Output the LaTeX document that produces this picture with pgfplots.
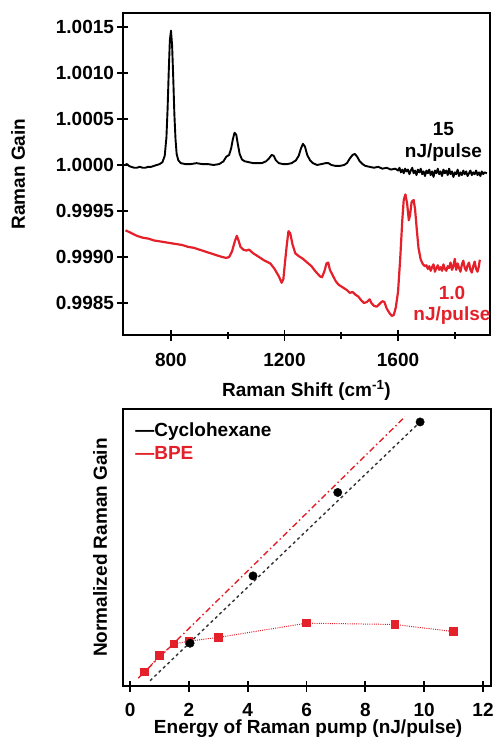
\documentclass[border=0pt]{standalone}
\usepackage{fontspec}
\setmainfont{Liberation Sans}
\usepackage{pgfplots}
\pgfplotsset{compat=1.18}
\definecolor{bpered}{HTML}{E4202A}
\newcommand{\tickfont}{\fontsize{19}{22}\selectfont\bfseries}
\newcommand{\labfont}{\fontsize{19}{22}\selectfont\bfseries}
\pgfplotsset{
  panel/.style={
    scale only axis, anchor=north west,
    axis line style={line width=2.4pt},
    tick align=center, tick style={line width=1.8pt, black},
    major tick length=11pt, minor tick length=7pt,
    xtick pos=lower, ytick pos=left,
    tick label style={font=\tickfont},
    label style={font=\labfont},
    /pgf/number format/assume math mode=true,
    /pgf/number format/1000 sep={},
  }
}
\begin{document}
\begin{tikzpicture}
\useasboundingbox (0pt,0pt) rectangle (494pt,-740pt);

% top: Raman spectra, y in units of 1e-5 relative to a gain of 1
\begin{axis}[panel,
  at={(123pt,-13pt)}, width=367pt, height=322pt,
  xmin=631, xmax=1924, ymin=-184.8, ymax=165.2,
  xtick={800,1200,1600}, minor xtick={1000,1400,1800},
  ytick={-150,-100,-50,0,50,100,150},
  yticklabels={0.9985,0.9990,0.9995,1.0000,1.0005,1.0010,1.0015},
  xticklabel style={yshift=-9pt},
  xlabel={Raman Shift (cm\textsuperscript{-1})},
  ylabel={Raman Gain},
  xlabel style={at={(axis description cs:0.5,-0.172)}, anchor=center},
  ylabel style={at={(axis description cs:-0.286,0.5)}, anchor=center},
]
\addplot[black, line width=1.9pt, line join=round] coordinates {
 (638,0) (645,1) (652,-1) (660,-2) (670,-3) (680,-3) (690,-2) (700,-3) (710,-3)
 (720,-2) (730,-2) (740,-1) (750,0) (760,1) (770,3) (778,10) (784,30) (788,60)
 (792,100) (796,135) (800,146) (804,130) (808,95) (812,55) (816,28) (820,12)
 (826,5) (835,2) (850,1) (870,1) (890,2) (910,1) (930,1) (950,0) (970,1) (985,4)
 (995,9) (1005,11) (1012,18) (1018,28) (1024,35) (1030,33) (1036,22) (1042,12)
 (1050,6) (1060,4) (1075,3) (1090,2) (1105,2) (1120,2) (1135,4) (1145,7)
 (1155,11) (1162,10) (1170,5) (1180,2) (1195,1) (1210,1) (1225,2) (1240,5)
 (1250,10) (1258,18) (1265,23) (1272,20) (1280,11) (1290,5) (1300,2) (1315,0)
 (1330,1) (1345,2) (1355,2) (1365,0) (1380,-1) (1395,-1) (1410,0) (1420,2)
 (1430,7) (1440,11) (1448,12) (1456,9) (1465,4) (1475,1) (1485,-1) (1500,-2)
 (1515,-3) (1530,-2) (1545,-4) (1560,-3) (1575,-5) (1590,-4)
 (1600,-6) (1605,-3) (1610,-8) (1615,-5) (1620,-9) (1625,-4) (1630,-7)
 (1635,-5) (1640,-10) (1645,-6) (1650,-3) (1655,-9) (1660,-6) (1665,-11)
 (1670,-5) (1675,-8) (1680,-4) (1685,-10) (1690,-7) (1695,-12) (1700,-6)
 (1705,-9) (1710,-5) (1715,-11) (1720,-7) (1725,-13) (1730,-6) (1735,-9)
 (1740,-4) (1745,-10) (1750,-7) (1755,-12) (1760,-5) (1765,-9) (1770,-6)
 (1775,-11) (1780,-4) (1785,-10) (1790,-7) (1795,-13) (1800,-8) (1805,-10)
 (1810,-5) (1815,-12) (1820,-8) (1825,-11) (1830,-6) (1835,-10) (1840,-7)
 (1845,-12) (1850,-9) (1855,-6) (1860,-11) (1865,-8) (1870,-10) (1875,-6)
 (1880,-11) (1885,-8) (1890,-12) (1895,-7) (1900,-10) (1905,-8) (1913,-9)};
\addplot[bpered, line width=2.2pt, line join=round] coordinates {
 (640,-71) (660,-74) (680,-77) (700,-79) (720,-80) (740,-82) (760,-83)
 (780,-84) (800,-85) (820,-86) (840,-87) (860,-89) (880,-90) (900,-92)
 (920,-94) (940,-96) (960,-98) (980,-100) (995,-101) (1005,-100) (1015,-94)
 (1025,-83) (1032,-77) (1038,-82) (1045,-89) (1055,-92) (1065,-93) (1075,-92)
 (1090,-96) (1110,-100) (1130,-104) (1150,-107) (1165,-113) (1180,-121)
 (1190,-128) (1196,-124) (1202,-105) (1208,-87) (1214,-72) (1220,-74)
 (1228,-86) (1238,-96) (1250,-99) (1265,-102) (1280,-106) (1295,-110)
 (1310,-116) (1325,-121) (1332,-122) (1340,-116) (1348,-107) (1354,-106)
 (1360,-114) (1370,-120) (1380,-126) (1390,-130) (1400,-132) (1410,-134)
 (1420,-136) (1430,-139) (1440,-138) (1450,-141) (1460,-143) (1470,-147)
 (1480,-150) (1490,-149) (1500,-146) (1506,-150) (1515,-153) (1525,-154)
 (1535,-151) (1545,-148) (1552,-149) (1560,-156) (1570,-161) (1578,-164)
 (1585,-163) (1592,-155) (1600,-138) (1608,-100) (1615,-60) (1620,-38)
 (1626,-32) (1632,-42) (1638,-60) (1642,-55) (1648,-40) (1655,-38) (1660,-48)
 (1666,-70) (1672,-90) (1680,-103) (1688,-108) (1695,-110) (1700,-109)
 (1705,-113) (1710,-110) (1715,-115) (1720,-111) (1725,-108) (1730,-116)
 (1735,-112) (1740,-109) (1745,-114) (1750,-111) (1755,-115) (1760,-108)
 (1765,-113) (1770,-115) (1775,-110) (1780,-112) (1785,-106) (1790,-114)
 (1795,-110) (1800,-102) (1805,-114) (1810,-107) (1815,-112) (1820,-116)
 (1825,-108) (1830,-104) (1835,-112) (1840,-115) (1845,-109) (1850,-106)
 (1855,-114) (1860,-117) (1865,-110) (1870,-105) (1875,-113) (1880,-116)
 (1885,-110) (1888,-103)};
\node[font=\labfont, black] at (axis cs:1760,39) {15};
\node[font=\labfont, black] at (axis cs:1760,13) {nJ/pulse};
\node[font=\labfont, bpered] at (axis cs:1790,-139) {1.0};
\node[font=\labfont, bpered] at (axis cs:1790,-164) {nJ/pulse};
\end{axis}

% bottom: normalized gain vs pump energy
\begin{axis}[panel,
  at={(123pt,-409pt)}, width=368pt, height=277pt,
  xmin=-0.24, xmax=12.27, ymin=0, ymax=1.049,
  xtick={0,2,4,6,8,10,12}, ytick=\empty,
  xticklabel style={yshift=-8pt},
  xlabel={Energy of Raman pump (nJ/pulse)},
  ylabel={Normalized Raman Gain},
  xlabel style={at={(axis description cs:0.503,-0.155)}, anchor=center},
  ylabel style={at={(axis description cs:-0.0625,0.5)}, anchor=center},
]
% linear fits
\addplot[black!80, line width=1.4pt, dash pattern=on 3pt off 3pt] coordinates {(0.68,0.02) (9.86,1.0)};
\addplot[bpered, line width=1.4pt, dash pattern=on 6pt off 3pt on 1.5pt off 3pt] coordinates {(0.28,0.03) (9.35,1.02)};
% BPE
\addplot[bpered, line width=1pt, dash pattern=on 1pt off 1.2pt, mark=square*,
  mark size=3.8pt, mark options={solid, fill=bpered, draw=bpered}] coordinates {
 (0.5,0.053) (1,0.115) (1.5,0.159) (2,0.170) (3,0.184) (6,0.238) (9,0.233) (11,0.206)};
% cyclohexane
\addplot[only marks, mark=*, mark size=4.2pt, black] coordinates {
 (2.04,0.162) (4.18,0.417) (7.06,0.733) (9.86,1.0)};
\node[font=\labfont, black, anchor=west, inner sep=0pt] at (rel axis cs:0.033,0.918) {—Cyclohexane};
\node[font=\labfont, bpered, anchor=west, inner sep=0pt] at (rel axis cs:0.033,0.842) {—BPE};
\end{axis}
\end{tikzpicture}
\end{document}
